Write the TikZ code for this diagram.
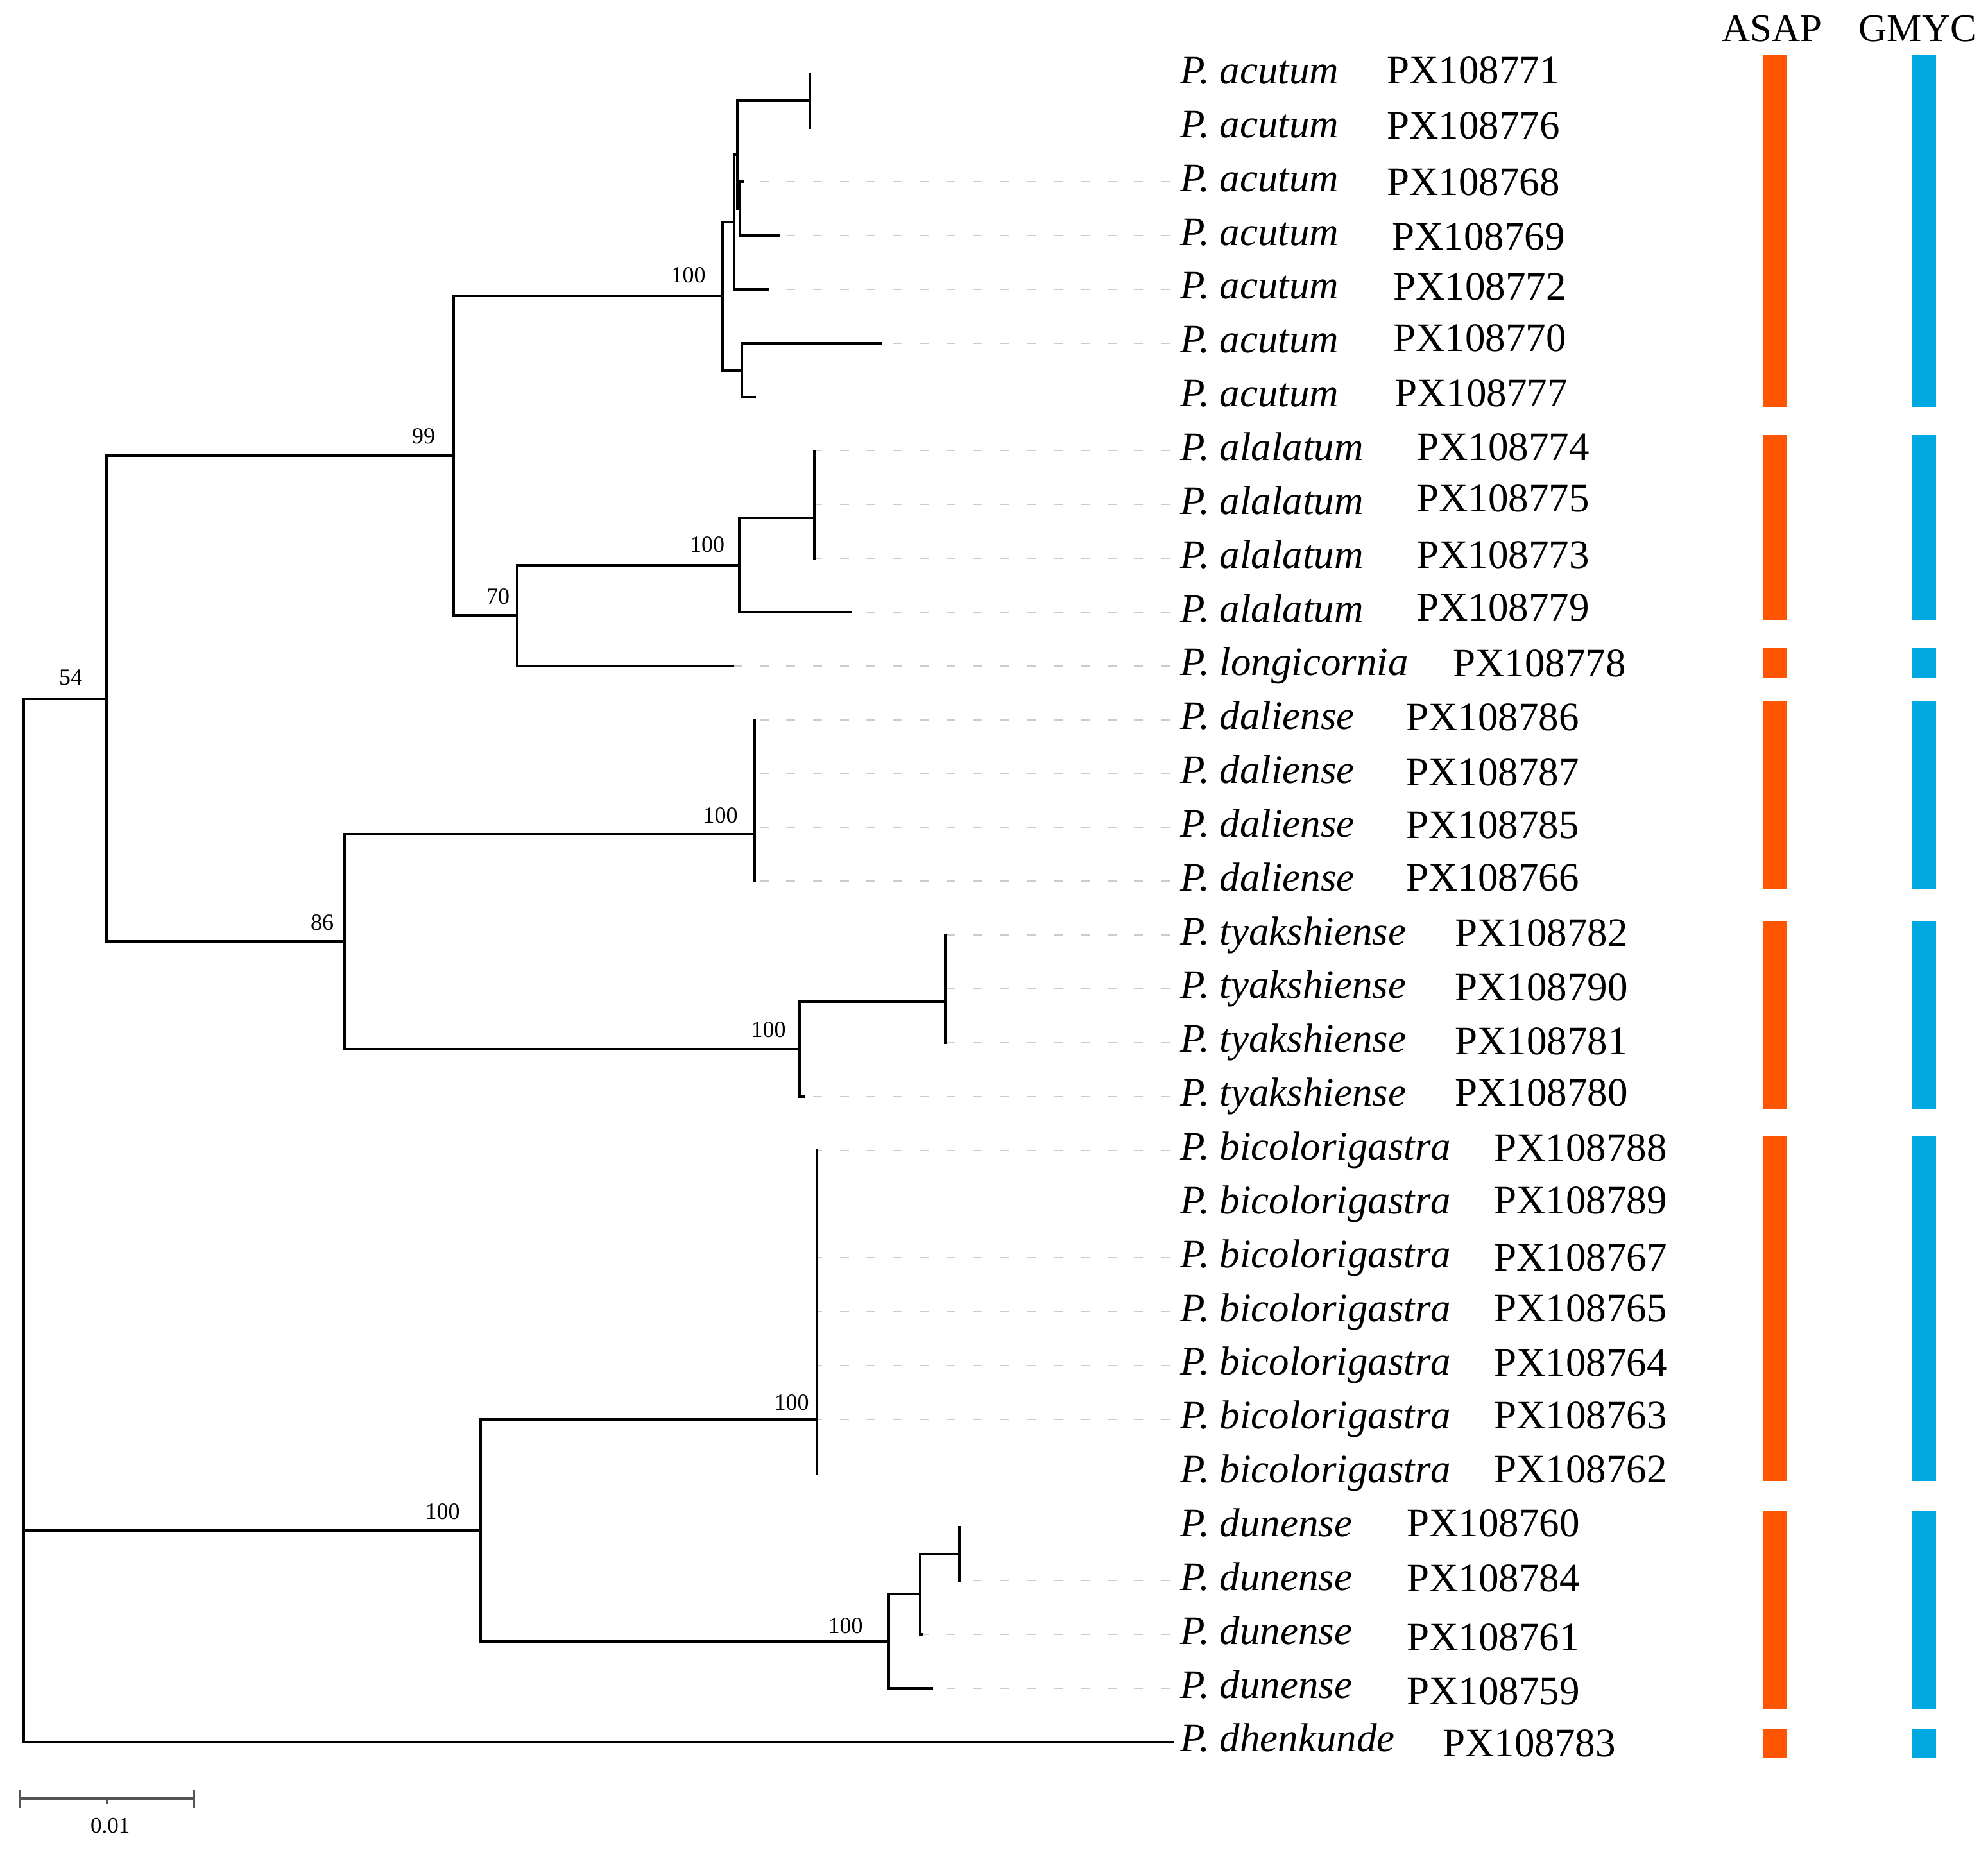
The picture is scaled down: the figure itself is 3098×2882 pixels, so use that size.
\documentclass[tikz,border=0pt]{standalone}
\usepackage{fontspec}
\setmainfont{Liberation Serif}
\definecolor{asapc}{RGB}{255,85,0}
\definecolor{gmycc}{RGB}{0,168,225}
\definecolor{sbc}{RGB}{85,85,85}
\tikzset{
  br/.style={line width=0.38pt, line cap=rect, draw=black},
  lead/.style={draw=black!20, line width=0.16pt, dash pattern=on 1.4pt off 2.77pt},
  spname/.style={anchor=base west, inner sep=0pt, font=\fontsize{6.3pt}{7pt}\selectfont\itshape},
  accname/.style={anchor=base west, inner sep=0pt, font=\fontsize{6.3pt}{7pt}\selectfont},
  boot/.style={anchor=base east, inner sep=0pt, font=\fontsize{3.6pt}{4pt}\selectfont},
  hdr/.style={anchor=base, inner sep=0pt, font=\fontsize{6.1pt}{7pt}\selectfont},
  asapbar/.style={fill=asapc, draw=none},
  gmycbar/.style={fill=gmycc, draw=none},
  sbar/.style={draw=sbc, line width=0.42pt},
}
\begin{document}
\begin{tikzpicture}[x=0.1pt, y=-0.1pt]
\useasboundingbox (0,0) rectangle (3098,2882);

% tip coordinates
\foreach \i/\x in {0/1261.7,1/1261.7,2/1157,3/1213.3,4/1196.7,5/1372.7,6/1176,
  7/1269.3,8/1269.3,9/1269.3,10/1325,11/1141.7,
  12/1176,13/1176,14/1176,15/1176,
  16/1473.3,17/1473.3,18/1473.3,19/1251.7,
  20/1272.7,21/1272.7,22/1272.7,23/1272.7,24/1272.7,25/1272.7,26/1272.7,
  27/1495,28/1495,29/1436.7,30/1451.7,31/1828}
  \coordinate (t\i) at (\x,{115.5+83.85*\i});

% leader line ends
\foreach \i in {0,...,30}
  \coordinate (e\i) at (1823,{115.5+83.85*\i});

% leader lines
\foreach \i in {0,...,30}
  \draw[lead] (e\i) -- (t\i);

% internal nodes
\coordinate (root) at (37,1900);
\coordinate (n54) at (166,1088.8);
\coordinate (n99) at (707,710.3);
\coordinate (n86) at (537,1467.3);
\coordinate (nAcu) at (1126,461.4);
\coordinate (n70) at (806,959.3);
\coordinate (nA) at (1144.3,346.1);
\coordinate (nB) at (1149.3,241.3);
\coordinate (nDD) at (1261.7,157.4);
\coordinate (nC) at (1153.3,325.1);
\coordinate (nE) at (1156,576.7);
\coordinate (nAla) at (1151.7,880.7);
\coordinate (nF) at (1269.3,807.3);
\coordinate (nDal) at (1176,1299.8);
\coordinate (nTya) at (1245.7,1634.8);
\coordinate (nH) at (1473.3,1561);
\coordinate (nBD) at (749,2385);
\coordinate (nBic) at (1272.7,2212.3);
\coordinate (nDun) at (1385,2557.6);
\coordinate (nI) at (1434.3,2484.3);
\coordinate (nJ) at (1495,2421.4);

% branches
\draw[br] (root) |- (n54);
\draw[br] (root) |- (nBD);
\draw[br] (root) |- (t31);
\draw[br] (n54) |- (n99);
\draw[br] (n54) |- (n86);
\draw[br] (n99) |- (nAcu);
\draw[br] (n99) |- (n70);
\draw[br] (nAcu) |- (nA);
\draw[br] (nAcu) |- (nE);
\draw[br] (nA) |- (nB);
\draw[br] (nA) |- (t4);
\draw[br] (nB) |- (nDD);
\draw[br] (nB) |- (nC);
\draw[br] (nDD) |- (t0);
\draw[br] (nDD) |- (t1);
\draw[br] (nC) |- (t2);
\draw[br] (nC) |- (t3);
\draw[br] (nE) |- (t5);
\draw[br] (nE) |- (t6);
\draw[br] (n70) |- (nAla);
\draw[br] (n70) |- (t11);
\draw[br] (nAla) |- (nF);
\draw[br] (nAla) |- (t10);
\foreach \i in {7,8,9} \draw[br] (nF) |- (t\i);
\draw[br] (n86) |- (nDal);
\draw[br] (n86) |- (nTya);
\foreach \i in {12,...,15} \draw[br] (nDal) |- (t\i);
\draw[br] (nTya) |- (nH);
\draw[br] (nTya) |- (t19);
\foreach \i in {16,17,18} \draw[br] (nH) |- (t\i);
\draw[br] (nBD) |- (nBic);
\draw[br] (nBD) |- (nDun);
\foreach \i in {20,...,26} \draw[br] (nBic) |- (t\i);
\draw[br] (nDun) |- (nI);
\draw[br] (nDun) |- (t30);
\draw[br] (nI) |- (nJ);
\draw[br] (nI) |- (t29);
\draw[br] (nJ) |- (t27);
\draw[br] (nJ) |- (t28);

% bootstrap values
\node[boot] (b54) at (130,1067) {54};
\node[boot] (b99) at (680,691) {99};
\node[boot] (b70) at (796,941) {70};
\node[boot] (b86) at (522,1449) {86};
\node[boot] (bAcu) at (1101.7,440.8) {100};
\node[boot] (bAla) at (1131,860) {100};
\node[boot] (bDal) at (1151.7,1282.4) {100};
\node[boot] (bTya) at (1226.7,1616) {100};
\node[boot] (bBD) at (718.5,2367) {100};
\node[boot] (bBic) at (1262.7,2197.8) {100};
\node[boot] (bDun) at (1346.7,2545) {100};

% taxon labels
\foreach \i/\spn/\acn/\ax/\dy in {
  0/P. acutum/PX108771/2159/0,
  1/P. acutum/PX108776/2159/2,
  2/P. acutum/PX108768/2159/6,
  3/P. acutum/PX108769/2167/7,
  4/P. acutum/PX108772/2169/2,
  5/P. acutum/PX108770/2169/-2,
  6/P. acutum/PX108777/2171/0,
  7/P. alalatum/PX108774/2205/0,
  8/P. alalatum/PX108775/2205/-4,
  9/P. alalatum/PX108773/2205/0,
  10/P. alalatum/PX108779/2205/-2,
  11/P. longicornia/PX108778/2262/2,
  12/P. daliense/PX108786/2189/2,
  13/P. daliense/PX108787/2189/4,
  14/P. daliense/PX108785/2189/2,
  15/P. daliense/PX108766/2189/0,
  16/P. tyakshiense/PX108782/2265/2,
  17/P. tyakshiense/PX108790/2265/4,
  18/P. tyakshiense/PX108781/2265/4,
  19/P. tyakshiense/PX108780/2265/0,
  20/P. bicolorigastra/PX108788/2326/2,
  21/P. bicolorigastra/PX108789/2326/0,
  22/P. bicolorigastra/PX108767/2326/5,
  23/P. bicolorigastra/PX108765/2326/0,
  24/P. bicolorigastra/PX108764/2326/2,
  25/P. bicolorigastra/PX108763/2326/0,
  26/P. bicolorigastra/PX108762/2326/0,
  27/P. dunense/PX108760/2190/0,
  28/P. dunense/PX108784/2190/2,
  29/P. dunense/PX108761/2190/10,
  30/P. dunense/PX108759/2190/10,
  31/P. dhenkunde/PX108783/2246/8}
{
  \node[spname] (s\i) at (1837,{115.5+83.85*\i+15}) {\spn};
  \node[accname] (a\i) at (\ax,{115.5+83.85*\i+15+\dy}) {\acn};
}

% headers
\node[hdr] (hasap) at (2761,65) {ASAP};
\node[hdr] (hgmyc) at (2988.3,65) {GMYC};

% delimitation bars
\foreach \top/\bot in {86/634, 678/966, 1010/1057, 1093/1385, 1436/1729, 1770/2308, 2355/2663, 2695/2740}
{
  \path[asapbar] (2748,\top) rectangle (2785,\bot);
  \path[gmycbar] (2979,\top) rectangle (3017,\bot);
}

% scale bar
\coordinate (sb1) at (31,2802.7);
\coordinate (sb2) at (301.7,2802.7);
\coordinate (sbm) at (166.7,2802.7);
\draw[sbar] (sb1) -- (sb2);
\draw[sbar] ([yshift=1.4pt]sb1) -- ([yshift=-1.4pt]sb1);
\draw[sbar] ([yshift=1.4pt]sb2) -- ([yshift=-1.4pt]sb2);
\draw[sbar] (sbm) -- ([yshift=-0.95pt]sbm);
\node[anchor=base, inner sep=0pt, font=\fontsize{3.5pt}{4pt}\selectfont] (sbl) at (171.7,2856.7) {0.01};
\end{tikzpicture}
\end{document}
